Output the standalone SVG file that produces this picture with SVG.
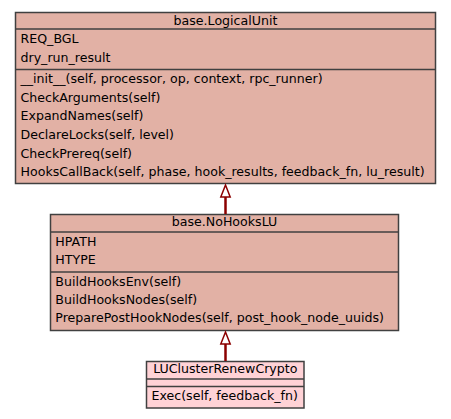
<svg xmlns="http://www.w3.org/2000/svg" width="451" height="419" viewBox="0 0 451 419">
<style>
.box{stroke:#404040;stroke-width:1.5}
.c1{fill:#E2B1A5}
.c2{fill:#FFD2D6}
.sep{stroke:#404040;stroke-width:1.5}
text{font-family:"DejaVu Sans",sans-serif;font-size:12.6px;fill:#000}
.ctr{text-anchor:middle}
.edge{stroke:#8B0000;stroke-width:2.5;fill:none}
.head{stroke:#8B0000;stroke-width:1.5;fill:#fff}
</style>
<rect width="451" height="419" fill="#fff"/>
<g id="node-LogicalUnit">
<rect class="box c1" x="15.5" y="12.5" width="420" height="171"/>
<line class="sep" x1="15.5" y1="29" x2="435.5" y2="29"/>
<line class="sep" x1="15.5" y1="69.5" x2="435.5" y2="69.5"/>
<text class="ctr" x="225.5" y="24.5">base.LogicalUnit</text>
<text x="20.5" y="43">REQ_BGL</text>
<text x="20.5" y="62">dry_run_result</text>
<text x="20.5" y="83">__init__(self, processor, op, context, rpc_runner)</text>
<text x="20.5" y="101.7">CheckArguments(self)</text>
<text x="20.5" y="120.3">ExpandNames(self)</text>
<text x="20.5" y="139">DeclareLocks(self, level)</text>
<text x="20.5" y="157.7">CheckPrereq(self)</text>
<text x="20.5" y="176.3">HooksCallBack(self, phase, hook_results, feedback_fn, lu_result)</text>
</g>
<g id="node-NoHooksLU">
<rect class="box c1" x="50.5" y="214.5" width="348" height="116"/>
<line class="sep" x1="50.5" y1="232" x2="398.5" y2="232"/>
<line class="sep" x1="50.5" y1="272" x2="398.5" y2="272"/>
<text class="ctr" x="224.5" y="226">base.NoHooksLU</text>
<text x="55.3" y="246">HPATH</text>
<text x="55.3" y="264">HTYPE</text>
<text x="55.3" y="285.5">BuildHooksEnv(self)</text>
<text x="55.3" y="303.5">BuildHooksNodes(self)</text>
<text x="55.3" y="322">PreparePostHookNodes(self, post_hook_node_uuids)</text>
</g>
<g id="node-LUClusterRenewCrypto">
<rect class="box c2" x="146.5" y="361.5" width="157.5" height="46.5"/>
<line class="sep" x1="146.5" y1="379" x2="304" y2="379"/>
<line class="sep" x1="146.5" y1="386.5" x2="304" y2="386.5"/>
<text class="ctr" x="225.3" y="373">LUClusterRenewCrypto</text>
<text x="151.5" y="399.5">Exec(self, feedback_fn)</text>
</g>
<g id="connectors">
<line class="edge" x1="225.5" y1="214" x2="225.5" y2="197"/>
<polygon class="head" points="225.5,185 230.2,197 220.8,197"/>
<line class="edge" x1="225.5" y1="361" x2="225.5" y2="344"/>
<polygon class="head" points="225.5,332 230.2,344 220.8,344"/>
</g>
</svg>
